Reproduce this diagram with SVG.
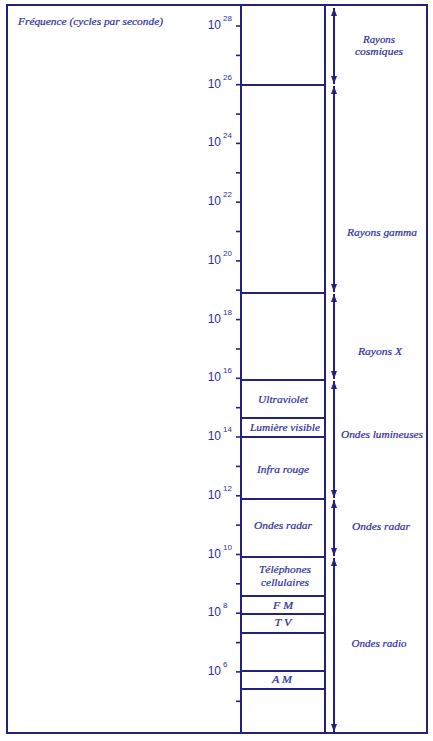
<svg xmlns="http://www.w3.org/2000/svg" width="433" height="741" viewBox="0 0 433 741">
<defs>
<marker id="ah" viewBox="0 0 8 6" refX="8" refY="3" markerWidth="8" markerHeight="6" markerUnits="userSpaceOnUse" orient="auto-start-reverse">
<path d="M0,0 L8,3 L0,6 Z" fill="#23237d"/>
</marker>
</defs>
<style>
.ln{stroke:#23237d;stroke-width:2;fill:none}
.tk{stroke:#23237d;stroke-width:1.6}
.lb{font-family:"Liberation Serif",serif;font-style:italic;font-size:10px;fill:#2e2e9c;stroke:#2e2e9c;stroke-width:0.2;text-anchor:middle}
.ex{font-family:"Liberation Sans",sans-serif;font-size:12px;fill:#2e2e9c;text-anchor:end}
.sp{font-family:"Liberation Sans",sans-serif;font-size:8px;fill:#2e2e9c}
.ti{font-family:"Liberation Serif",serif;font-style:italic;font-size:10px;fill:#2e2e9c;stroke:#2e2e9c;stroke-width:0.2}
</style>
<rect x="0" y="0" width="433" height="741" fill="#ffffff"/>
<g id="frame">
<rect class="ln" x="7" y="5" width="420" height="728"/>
<line class="ln" x1="241" y1="5" x2="241" y2="733"/>
<line class="ln" x1="325" y1="5" x2="325" y2="733"/>
<text class="ti" x="18" y="25" textLength="145" lengthAdjust="spacingAndGlyphs">Fréquence  (cycles par seconde)</text>
</g>
<g id="axis">
<line class="tk" x1="236" y1="26" x2="241" y2="26"/>
<line class="tk" x1="236" y1="55.4" x2="241" y2="55.4"/>
<line class="tk" x1="236" y1="84.7" x2="241" y2="84.7"/>
<line class="tk" x1="236" y1="114.1" x2="241" y2="114.1"/>
<line class="tk" x1="236" y1="143.4" x2="241" y2="143.4"/>
<line class="tk" x1="236" y1="172.8" x2="241" y2="172.8"/>
<line class="tk" x1="236" y1="202.2" x2="241" y2="202.2"/>
<line class="tk" x1="236" y1="231.5" x2="241" y2="231.5"/>
<line class="tk" x1="236" y1="260.9" x2="241" y2="260.9"/>
<line class="tk" x1="236" y1="290.2" x2="241" y2="290.2"/>
<line class="tk" x1="236" y1="319.6" x2="241" y2="319.6"/>
<line class="tk" x1="236" y1="349" x2="241" y2="349"/>
<line class="tk" x1="236" y1="378.3" x2="241" y2="378.3"/>
<line class="tk" x1="236" y1="407.7" x2="241" y2="407.7"/>
<line class="tk" x1="236" y1="437" x2="241" y2="437"/>
<line class="tk" x1="236" y1="466.4" x2="241" y2="466.4"/>
<line class="tk" x1="236" y1="495.8" x2="241" y2="495.8"/>
<line class="tk" x1="236" y1="525.1" x2="241" y2="525.1"/>
<line class="tk" x1="236" y1="554.5" x2="241" y2="554.5"/>
<line class="tk" x1="236" y1="583.8" x2="241" y2="583.8"/>
<line class="tk" x1="236" y1="613.2" x2="241" y2="613.2"/>
<line class="tk" x1="236" y1="642.6" x2="241" y2="642.6"/>
<line class="tk" x1="236" y1="671.9" x2="241" y2="671.9"/>
<line class="tk" x1="236" y1="701.3" x2="241" y2="701.3"/>
<text class="ex" x="221" y="29">10</text><text class="sp" x="223" y="21">28</text>
<text class="ex" x="221" y="88">10</text><text class="sp" x="223" y="80">26</text>
<text class="ex" x="221" y="146">10</text><text class="sp" x="223" y="138">24</text>
<text class="ex" x="221" y="205">10</text><text class="sp" x="223" y="197">22</text>
<text class="ex" x="221" y="264">10</text><text class="sp" x="223" y="256">20</text>
<text class="ex" x="221" y="323">10</text><text class="sp" x="223" y="315">18</text>
<text class="ex" x="221" y="381">10</text><text class="sp" x="223" y="373">16</text>
<text class="ex" x="221" y="440">10</text><text class="sp" x="223" y="432">14</text>
<text class="ex" x="221" y="499">10</text><text class="sp" x="223" y="491">12</text>
<text class="ex" x="221" y="558">10</text><text class="sp" x="223" y="550">10</text>
<text class="ex" x="221" y="616">10</text><text class="sp" x="223" y="608">8</text>
<text class="ex" x="221" y="675">10</text><text class="sp" x="223" y="667">6</text>
</g>
<g id="bands">
<line class="ln" x1="241" y1="85" x2="325" y2="85"/>
<line class="ln" x1="241" y1="293" x2="325" y2="293"/>
<line class="ln" x1="241" y1="380" x2="325" y2="380"/>
<line class="ln" x1="241" y1="418" x2="325" y2="418"/>
<line class="ln" x1="241" y1="437" x2="325" y2="437"/>
<line class="ln" x1="241" y1="499" x2="325" y2="499"/>
<line class="ln" x1="241" y1="557" x2="325" y2="557"/>
<line class="ln" x1="241" y1="596" x2="325" y2="596"/>
<line class="ln" x1="241" y1="614" x2="325" y2="614"/>
<line class="ln" x1="241" y1="633" x2="325" y2="633"/>
<line class="ln" x1="241" y1="671" x2="325" y2="671"/>
<line class="ln" x1="241" y1="689" x2="325" y2="689"/>
</g>
<g id="band-labels">
<text class="lb" x="283" y="403" textLength="50" lengthAdjust="spacingAndGlyphs">Ultraviolet</text>
<text class="lb" x="285" y="431" textLength="70" lengthAdjust="spacingAndGlyphs">Lumière visible</text>
<text class="lb" x="283" y="473" textLength="52" lengthAdjust="spacingAndGlyphs">Infra rouge</text>
<text class="lb" x="283" y="529" textLength="58" lengthAdjust="spacingAndGlyphs">Ondes radar</text>
<text class="lb" x="285" y="573" textLength="52" lengthAdjust="spacingAndGlyphs">Téléphones</text>
<text class="lb" x="285" y="586" textLength="48" lengthAdjust="spacingAndGlyphs">cellulaires</text>
<text class="lb" x="283" y="609" textLength="20" lengthAdjust="spacingAndGlyphs">F M</text>
<text class="lb" x="283" y="626" textLength="17" lengthAdjust="spacingAndGlyphs">T V</text>
<text class="lb" x="282" y="683" textLength="20" lengthAdjust="spacingAndGlyphs">A M</text>
</g>
<g id="connectors">
<line class="ln" x1="334" y1="8" x2="334" y2="84" marker-start="url(#ah)" marker-end="url(#ah)"/>
<line class="ln" x1="334" y1="86" x2="334" y2="292" marker-start="url(#ah)" marker-end="url(#ah)"/>
<line class="ln" x1="334" y1="294" x2="334" y2="379" marker-start="url(#ah)" marker-end="url(#ah)"/>
<line class="ln" x1="334" y1="381" x2="334" y2="498" marker-start="url(#ah)" marker-end="url(#ah)"/>
<line class="ln" x1="334" y1="500" x2="334" y2="556" marker-start="url(#ah)" marker-end="url(#ah)"/>
<line class="ln" x1="334" y1="558" x2="334" y2="732" marker-start="url(#ah)" marker-end="url(#ah)"/>
</g>
<g id="range-labels">
<text class="lb" x="379" y="43" textLength="32" lengthAdjust="spacingAndGlyphs">Rayons</text>
<text class="lb" x="379" y="55" textLength="48" lengthAdjust="spacingAndGlyphs">cosmiques</text>
<text class="lb" x="382" y="236" textLength="70" lengthAdjust="spacingAndGlyphs">Rayons gamma</text>
<text class="lb" x="380" y="355" textLength="44" lengthAdjust="spacingAndGlyphs">Rayons X</text>
<text class="lb" x="382" y="438" textLength="82" lengthAdjust="spacingAndGlyphs">Ondes lumineuses</text>
<text class="lb" x="381" y="530" textLength="58" lengthAdjust="spacingAndGlyphs">Ondes radar</text>
<text class="lb" x="379" y="647" textLength="55" lengthAdjust="spacingAndGlyphs">Ondes radio</text>
</g>
</svg>
